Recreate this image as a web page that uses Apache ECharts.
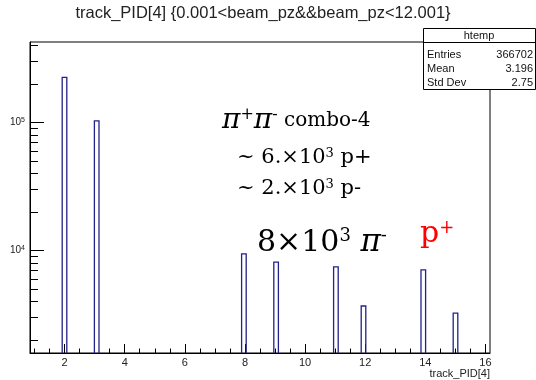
<!DOCTYPE html>
<html>
<head>
<meta charset="utf-8">
<script src="https://cdn.jsdelivr.net/npm/echarts@6/dist/echarts.min.js"></script>
<style>
html, body { margin: 0; padding: 0; background: #fff; }
#main { width: 536px; height: 380px; }
</style>
</head>
<body>
<div id="main"></div>
<script>
// 直方图数据 (track_PID[4])
var trackPid = [2, 3, 8, 9, 11, 12, 14, 15];
var entries = [225000, 103000, 9400, 8100, 7450, 3680, 7050, 3240];

// 坐标轴刻度
var xLabelTicks = [2, 4, 6, 8, 10, 12, 14, 16];
var xMinorTicks = [1, 1.5, 2.5, 3, 3.5, 4.5, 5, 5.5, 6.5, 7, 7.5, 8.5, 9, 9.5, 10.5, 11, 11.5,
    12.5, 13, 13.5, 14.5, 15, 15.5];
var yMajorTicks = [10000, 100000];
var yMinorTicks = [2000, 3000, 4000, 5000, 6000, 7000, 8000, 9000,
    20000, 30000, 40000, 50000, 60000, 70000, 80000, 90000,
    200000, 300000, 400000];

// 统计框
var statNames = ['Entries', 'Mean', 'Std Dev'];
var statValues = ['366702', '3.196', '2.75'];

var xMin = 0.85, xMax = 16.15, nBins = 100;
var binW = (xMax - xMin) / nBins;
var yMin = 1580, yMax = 425000;

var myChart = echarts.init(document.getElementById('main'));

var sans = 'Liberation Sans, Arial, sans-serif';
var serif = 'DejaVu Serif, serif';

function statsBox() {
    var els = [
        { type: 'rect', shape: { x: 423.5, y: 28.5, width: 112, height: 61 },
          style: { fill: '#fff', stroke: '#000', lineWidth: 1 } },
        { type: 'line', shape: { x1: 423.5, y1: 42.5, x2: 535.5, y2: 42.5 },
          style: { stroke: '#000', lineWidth: 1 } },
        { type: 'text', x: 479, y: 35.5,
          style: { text: 'htemp', font: '11px ' + sans, fill: '#111', align: 'center', verticalAlign: 'middle' } }
    ];
    for (var i = 0; i < statNames.length; i++) {
        els.push({ type: 'text', x: 427, y: 55 + i * 14,
            style: { text: statNames[i], font: '11px ' + sans, fill: '#111', verticalAlign: 'middle' } });
        els.push({ type: 'text', x: 533, y: 55 + i * 14,
            style: { text: statValues[i], font: '11px ' + sans, fill: '#111', align: 'right', verticalAlign: 'middle' } });
    }
    return els;
}

var supStyle = function (size, color) {
    return { fontFamily: serif, fontSize: size, verticalAlign: 'top', fill: color || '#000' };
};

var option = {
    animation: false,
    backgroundColor: '#fff',
    grid: {
        left: 30, top: 42, right: 46, bottom: 27,
        show: true, borderColor: '#000', borderWidth: 1, backgroundColor: '#fff',
        containLabel: false, outerBoundsMode: 'none'
    },
    xAxis: [{
        type: 'value', min: xMin, max: xMax, position: 'bottom',
        axisLine: { show: true, onZero: false, lineStyle: { color: '#000', width: 1 } },
        axisTick: { show: true, inside: true, length: 9, customValues: xLabelTicks, lineStyle: { color: '#000' } },
        axisLabel: { show: true, customValues: xLabelTicks, color: '#222', fontSize: 11, fontFamily: sans, margin: 4 },
        splitLine: { show: false }
    }, {
        type: 'value', min: xMin, max: xMax, position: 'bottom',
        axisLine: { show: false },
        axisTick: { show: true, inside: true, length: 4.5, customValues: xMinorTicks, lineStyle: { color: '#000' } },
        axisLabel: { show: false },
        splitLine: { show: false }
    }],
    yAxis: [{
        type: 'log', logBase: 10, min: yMin, max: yMax, position: 'left',
        axisLine: { show: true, onZero: false, lineStyle: { color: '#000', width: 1 } },
        axisTick: { show: true, inside: true, length: 14, customValues: yMajorTicks, lineStyle: { color: '#000' } },
        axisLabel: {
            show: true, customValues: yMajorTicks, margin: 5,
            formatter: function (v) {
                return '{b|10}{s|' + Math.round(Math.log10(v)) + '}';
            },
            rich: {
                b: { fontSize: 10, fontFamily: sans, color: '#222' },
                s: { fontSize: 7, fontFamily: sans, color: '#222', verticalAlign: 'top', padding: [0, 0, 5, 0] }
            }
        },
        splitLine: { show: false }
    }, {
        type: 'log', logBase: 10, min: yMin, max: yMax, position: 'left',
        axisLine: { show: false },
        axisTick: { show: true, inside: true, length: 8, customValues: yMinorTicks, lineStyle: { color: '#000' } },
        axisLabel: { show: false },
        splitLine: { show: false }
    }],
    series: [{
        type: 'custom',
        xAxisIndex: 0, yAxisIndex: 0,
        data: trackPid.map(function (x, i) { return [x, entries[i]]; }),
        renderItem: function (params, api) {
            var x = api.value(0), n = api.value(1);
            var lo = xMin + Math.floor((x - xMin) / binW) * binW;
            var top = api.coord([lo, n]);
            var bot = api.coord([lo + binW, yMin]);
            return {
                type: 'polyline',
                shape: { points: [[top[0], bot[1]], [top[0], top[1]], [bot[0], top[1]], [bot[0], bot[1]]] },
                style: { stroke: '#22228a', lineWidth: 1.3, fill: null }
            };
        }
    }],
    graphic: [
        { type: 'text', x: 263, y: 13,
          style: { text: 'track_PID[4] {0.001<beam_pz&&beam_pz<12.001}', font: '16.5px ' + sans,
                   fill: '#222', align: 'center', verticalAlign: 'middle' } },
        { type: 'text', x: 490, y: 374,
          style: { text: 'track_PID[4]', font: '11px ' + sans, fill: '#222', align: 'right', verticalAlign: 'middle' } },
        { type: 'group', children: statsBox() },
        { type: 'text', x: 222, y: 121,
          style: {
              text: '{pi|π}{s|+}{pi|π}{s|-}{t| combo-4}', verticalAlign: 'middle',
              rich: {
                  pi: { fontFamily: serif, fontStyle: 'italic', fontSize: 28, fill: '#000' },
                  s: supStyle(16),
                  t: { fontFamily: serif, fontSize: 20, fill: '#000' }
              }
          } },
        { type: 'text', x: 237, y: 158,
          style: {
              text: '{t|~ 6.×10}{s|3}{t| p+}', verticalAlign: 'middle',
              rich: { t: { fontFamily: serif, fontSize: 21, fill: '#000' }, s: supStyle(13) }
          } },
        { type: 'text', x: 237, y: 189,
          style: {
              text: '{t|~ 2.×10}{s|3}{t| p-}', verticalAlign: 'middle',
              rich: { t: { fontFamily: serif, fontSize: 21, fill: '#000' }, s: supStyle(13) }
          } },
        { type: 'text', x: 257, y: 243,
          style: {
              text: '{t|8×10}{s|3}{t| }{pi|π}{s|-}', verticalAlign: 'middle',
              rich: {
                  t: { fontFamily: serif, fontSize: 30, fill: '#000' },
                  pi: { fontFamily: serif, fontStyle: 'italic', fontSize: 31, fill: '#000' },
                  s: supStyle(18)
              }
          } },
        { type: 'text', x: 420, y: 234,
          style: {
              text: '{p|p}{s|+}', verticalAlign: 'middle',
              rich: { p: { fontFamily: serif, fontSize: 30, fill: '#ff0000' }, s: supStyle(18, '#ff0000') }
          } }
    ]
};

myChart.setOption(option);
</script>
</body>
</html>
